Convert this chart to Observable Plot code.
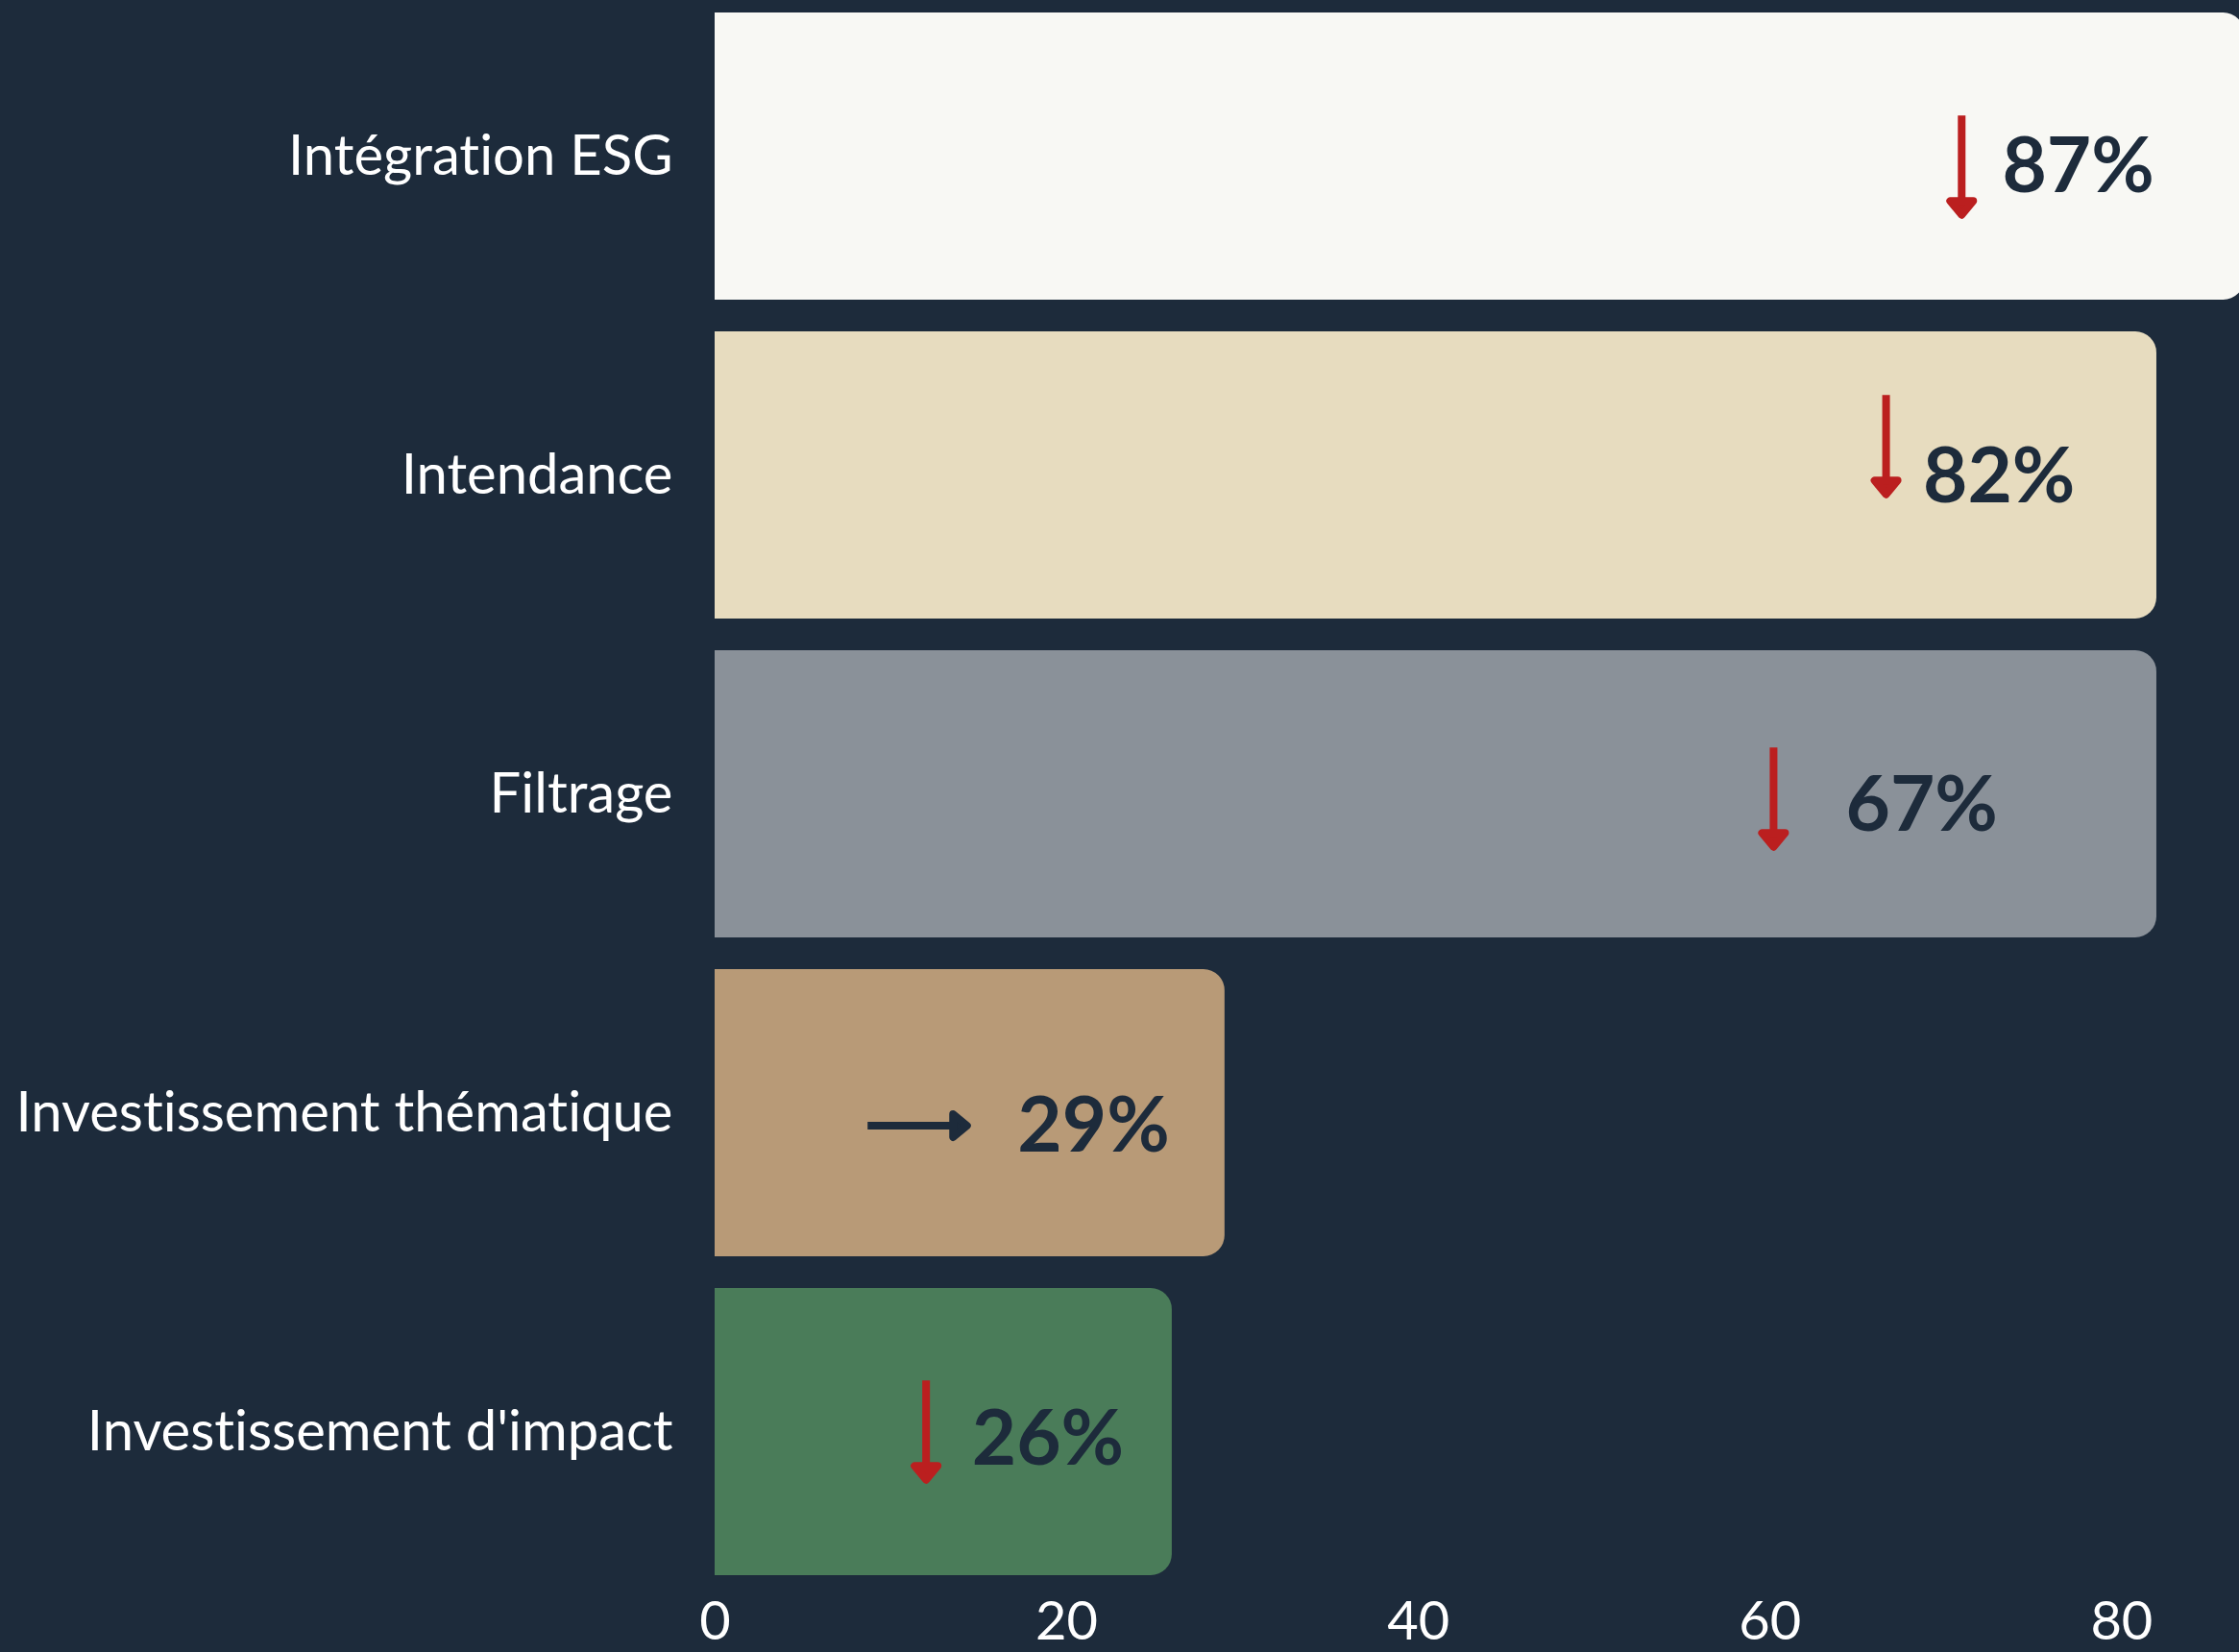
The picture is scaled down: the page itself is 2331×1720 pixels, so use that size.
<!DOCTYPE html>
<html>
<head>
<meta charset="utf-8">
<script src="https://cdn.jsdelivr.net/npm/d3@7"></script>
<script src="https://cdn.jsdelivr.net/npm/@observablehq/plot@0.6"></script>
<style>
  html, body { margin: 0; padding: 0; background: #1d2b3b; }
  #chart svg { display: block; }
  #chart svg text { font-variant-ligatures: none; font-feature-settings: "liga" 0; }
</style>
</head>
<body>
<div id="chart"></div>
<script>
// ---- data ----
const categories = ["Intégration ESG", "Intendance", "Filtrage", "Investissement thématique", "Investissement d'impact"];
const barLength  = [87, 82, 82, 29, 26];           // drawn bar lengths (%)
const shareLabel = ["87%", "82%", "67%", "29%", "26%"];
const trend      = ["down", "down", "down", "flat", "down"];
const trendAt    = [70.9, 66.6, 60.2, 11.5, 12.0]; // trend marker position (% units)
const labelAt    = [73.2, 68.7, 64.3, 17.2, 14.6]; // label start position (% units)
const xTicks     = [0, 20, 40, 60, 80];

// ---- styling ----
const navy = "#1d2b3b";
const red = "#bb1f1f";
const barColors = ["#f8f8f4", "#e7dcbf", "#8a9199", "#b89a77", "#4a7c59"];
const arrowDy = [9, -32, 3, 13, -2];
const labelDy = [11, 2, 12, 14, 8];

const rows = categories.map((c, i) => ({
  category: c, len: barLength[i], label: shareLabel[i],
  trend: trend[i], trendAt: trendAt[i], labelAt: labelAt[i]
}));

const arrowShape = {
  draw(ctx, l) {
    const w = 12, h = 14.5;
    ctx.moveTo(0, 0);
    ctx.lineTo(0, -l + h);
    ctx.moveTo(-w, -l + h);
    ctx.lineTo(0, -l);
    ctx.lineTo(w, -l + h);
    ctx.closePath();
  }
};

const arrowMarks = rows.map((d, i) => Plot.vector([d], {
  x: "trendAt", y: "category",
  rotate: d.trend === "down" ? 180 : 90,
  length: 103.5,
  shape: arrowShape,
  stroke: d.trend === "down" ? red : navy,
  fill: d.trend === "down" ? red : navy,
  strokeWidth: 8,
  strokeLinecap: "butt",
  strokeLinejoin: "round",
  dy: arrowDy[i]
}));

const labelMarks = rows.map((d, i) => Plot.text([d], {
  x: "labelAt", y: "category", text: "label",
  textAnchor: "start",
  fontSize: 80, fontWeight: 700,
  fill: navy,
  dy: labelDy[i]
}));

const chart = Plot.plot({
  width: 2331,
  height: 1720,
  marginLeft: 744,
  marginRight: 0,
  marginTop: 12,
  marginBottom: 80,
  x: {domain: [0, 86.7]},
  y: {domain: categories, paddingInner: 0.1, paddingOuter: 0},
  color: {domain: categories, range: barColors},
  style: {background: navy, color: "#ffffff", fontFamily: "Lato, sans-serif", overflow: "hidden"},
  marks: [
    Plot.barX(rows, {x1: 0, x2: "len", y: "category", fill: "category", rx2: 22}),
    ...arrowMarks,
    ...labelMarks,
    Plot.axisY({tickSize: 0, tickPadding: 44, fontSize: 58, label: null}),
    Plot.axisX({ticks: xTicks, tickSize: 0, tickPadding: 27, fontSize: 56, label: null})
  ]
});
document.getElementById("chart").appendChild(chart);
</script>
</body>
</html>
